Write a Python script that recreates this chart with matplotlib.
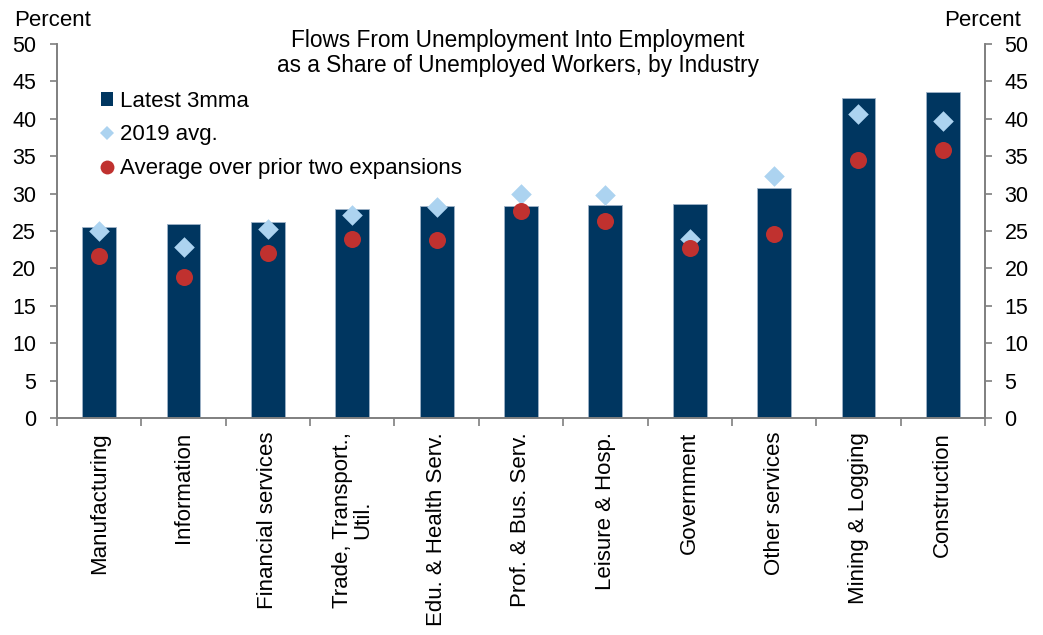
import matplotlib
matplotlib.use("Agg")
import matplotlib.pyplot as plt
from matplotlib.lines import Line2D
from matplotlib.patches import Patch
import numpy as np

categories = ["Manufacturing", "Information", "Financial services", "Trade, Transport.,\nUtil.",
              "Edu. & Health Serv.", "Prof. & Bus. Serv.", "Leisure & Hosp.", "Government",
              "Other services", "Mining & Logging", "Construction"]
latest_3mma = [25.5, 25.9, 26.2, 27.9, 28.3, 28.3, 28.5, 28.6, 30.8, 42.8, 43.6]
avg_2019 = [25.0, 22.9, 25.3, 27.1, 28.2, 30.0, 29.8, 23.9, 32.3, 40.7, 39.7]
avg_prior_expansions = [21.7, 18.8, 22.0, 23.9, 23.8, 27.7, 26.3, 22.7, 24.6, 34.5, 35.8]
yticks = [0, 5, 10, 15, 20, 25, 30, 35, 40, 45, 50]

plt.rcParams['font.family'] = ['Liberation Sans', 'DejaVu Sans']

fig = plt.figure(figsize=(10.43, 6.35), dpi=100)
ax = fig.add_axes([57/1043, 1 - 418/635, (985-57)/1043, (418-44)/635])

x = np.arange(len(categories))
bar_c = "#003660"
dia_c = "#acd3f0"
red_c = "#c0312f"
grey = "#7f7f7f"
ax.bar(x, latest_3mma, width=0.4, color=bar_c, edgecolor="#9fb3c8", linewidth=0.6, zorder=2)
ax.scatter(x, avg_2019, marker="D", s=110, color=dia_c, zorder=3, linewidths=0)
ax.scatter(x, avg_prior_expansions, marker="o", s=150, color=red_c, zorder=4, linewidths=0)

ax.set_xlim(-0.5, len(categories) - 0.5)
ax.set_ylim(0, 50)
ax.set_yticks(yticks)
ax.set_yticklabels([str(v) for v in yticks], fontsize=15.5)

ax.set_xticks(x)
ax.set_xticklabels(categories, rotation=90, fontsize=16, va="top", ha="center", linespacing=0.95)
ax.tick_params(axis="x", length=0, pad=10)
ax.set_xticks(np.arange(len(categories) + 1) - 0.5, minor=True)
ax.tick_params(axis="x", which="minor", length=6, color=grey, width=1.2, direction="out")

ax.tick_params(axis="y", length=5, color=grey, width=1.2, direction="out", pad=10)
ax.spines["top"].set_visible(False)
for s in ["left", "right", "bottom"]:
    ax.spines[s].set_color(grey)
    ax.spines[s].set_linewidth(1.2)

ax2 = ax.twinx()
ax2.set_ylim(0, 50)
ax2.set_yticks(yticks)
ax2.set_yticklabels([str(v) for v in yticks], fontsize=15.5)
ax2.tick_params(axis="y", length=5, color=grey, width=1.2, direction="out", pad=9)
ax2.spines["top"].set_visible(False)
for s in ["left", "right", "bottom"]:
    ax2.spines[s].set_color(grey)
    ax2.spines[s].set_linewidth(1.2)

fig.text(14/1043, 1 - 21/635, "Percent", fontsize=16, va="center", ha="left")
fig.text(1021/1043, 1 - 21/635, "Percent", fontsize=16, va="center", ha="right")
fig.text(518/1043, 1 - 53/635,
         "Flows From Unemployment Into Employment\nas a Share of Unemployed Workers, by Industry",
         fontsize=16.3, ha="center", va="center", linespacing=1.15)

handles = [
    Patch(facecolor=bar_c, edgecolor="none"),
    Line2D([], [], marker="D", linestyle="none", markersize=7.5, color=dia_c, markeredgewidth=0),
    Line2D([], [], marker="o", linestyle="none", markersize=10, color=red_c, markeredgewidth=0),
]
labels = ["Latest 3mma", "2019 avg.", "Average over prior two expansions"]
leg = fig.legend(handles, labels, loc="upper left", bbox_to_anchor=(101/1043, 1 - 91/635),
                 frameon=False, fontsize=16, handlelength=0.55, handleheight=0.55,
                 handletextpad=0.3, labelspacing=0.56, borderaxespad=0, borderpad=0)

fig.savefig("out.png", dpi=100)
